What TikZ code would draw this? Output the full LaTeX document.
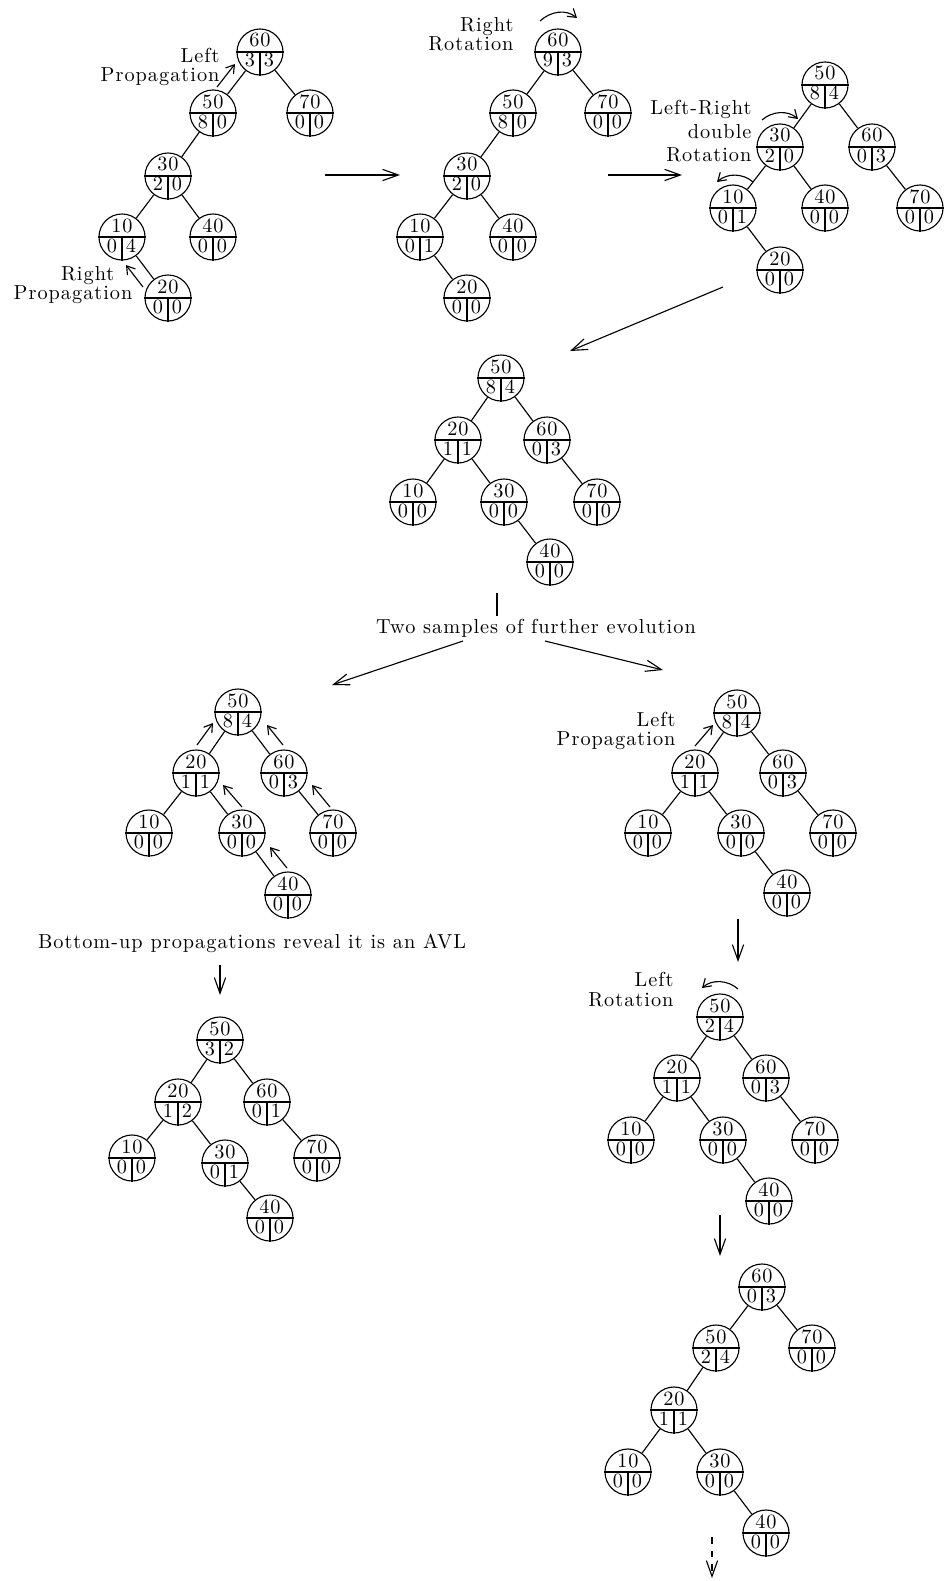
\documentclass[tikz,border=0pt]{standalone}
\usepackage{fontspec}
\setmainfont{lmroman10-regular.otf}[LetterSpace=5]
\usepackage{tikz}
\usetikzlibrary{arrows.meta}

% one tree node: name, x, y, key, left count, right count
\newcommand{\avl}[6]{%
  \node[avl] (#1) at (#2,#3) {};
  \draw (#1.west) -- (#1.east) (#1.center) -- (#1.south);
  \node[key] (#1k) at (#2,#3-5) {#4};
  \node[key] (#1l) at (#2-10,#3+15) {#5};
  \node[key] (#1r) at (#2+9,#3+15) {#6};
}

\begin{document}
\begin{tikzpicture}[x=0.0156cm, y=-0.0156cm, line width=0.5pt,
    font=\fontsize{9}{8.5}\selectfont,
    avl/.style={circle, draw, minimum size=0.7176cm, inner sep=0pt},
    key/.style={anchor=base, inner sep=0pt},
    lbl/.style={align=right, anchor=south east, inner sep=0pt},
    flow/.style={-{Straight Barb[length=7pt,width=5pt]}},
    prop/.style={-{Straight Barb[length=3.5pt,width=4.5pt]}}
]
\useasboundingbox (0,0) rectangle (945,1581);

% tree a - insertion of 20, propagations upward
\avl{a60}{260}{52}{60}{3}{3}
\avl{a50}{213}{113}{50}{8}{0}
\avl{a70}{310}{113}{70}{0}{0}
\avl{a30}{168}{176}{30}{2}{0}
\avl{a10}{122}{237}{10}{0}{4}
\avl{a40}{213}{237}{40}{0}{0}
\avl{a20}{168}{298}{20}{0}{0}
\draw (a60) -- (a50) (a60) -- (a70) (a50) -- (a30) (a30) -- (a10) (a30) -- (a40) (a10) -- (a20);
\node[lbl] (alp) at (220,86) {Left\\Propagation};
\draw[prop] (217,87) -- (235,64);
\node[lbl] (arp) at (133,304) {Right\hspace*{8pt}\\Propagation};
\draw[prop] (143,287) -- (126,265);

\draw[flow] (325,175) -- (400,175);

% tree b - right rotation at 60
\avl{b60}{558}{52}{60}{9}{3}
\avl{b50}{513}{113}{50}{8}{0}
\avl{b70}{608}{113}{70}{0}{0}
\avl{b30}{467}{176}{30}{2}{0}
\avl{b10}{420}{237}{10}{0}{1}
\avl{b40}{513}{237}{40}{0}{0}
\avl{b20}{467}{298}{20}{0}{0}
\draw (b60) -- (b50) (b60) -- (b70) (b50) -- (b30) (b30) -- (b10) (b30) -- (b40) (b10) -- (b20);
\node[lbl] (brr) at (514,52) {Right\\Rotation};
\draw[prop] (540,21) .. controls (551,11) and (566,9) .. (577,18);

\draw[flow] (608,175) -- (682,175);

% tree c - left-right double rotation at 30
\avl{c50}{825}{85}{50}{8}{4}
\avl{c30}{780}{147}{30}{2}{0}
\avl{c60}{872}{147}{60}{0}{3}
\avl{c10}{733}{208}{10}{0}{1}
\avl{c40}{825}{208}{40}{0}{0}
\avl{c70}{920}{208}{70}{0}{0}
\avl{c20}{780}{270}{20}{0}{0}
\draw (c50) -- (c30) (c50) -- (c60) (c30) -- (c10) (c30) -- (c40) (c60) -- (c70) (c10) -- (c20);
\node[lbl, font=\fontsize{9}{10.5}\selectfont] (clr) at (752,163) {Left-Right\\double\\Rotation};
\draw[prop] (762,120) .. controls (772,111) and (788,110) .. (798,119);
\draw[prop] (753,182) .. controls (743,173) and (727,173) .. (717,182);

\draw[flow] (723,287) -- (570,351);

% tree d - result
\avl{d50}{501}{378}{50}{8}{4}
\avl{d20}{458}{440}{20}{1}{1}
\avl{d60}{547}{440}{60}{0}{3}
\avl{d10}{413}{502}{10}{0}{0}
\avl{d30}{504}{502}{30}{0}{0}
\avl{d70}{597}{502}{70}{0}{0}
\avl{d40}{550}{562}{40}{0}{0}
\draw (d50) -- (d20) (d50) -- (d60) (d20) -- (d10) (d20) -- (d30) (d60) -- (d70) (d30) -- (d40);

\draw (497,593) -- (497,616);
\node[key] (two) at (536,633) {Two samples of further evolution};
\draw[flow] (463,641) -- (332,685);
\draw[flow] (545,641) -- (663,670);

% tree e - bottom-up propagations
\avl{e50}{238}{712}{50}{8}{4}
\avl{e20}{196}{773}{20}{1}{1}
\avl{e60}{284}{773}{60}{0}{3}
\avl{e10}{149}{833}{10}{0}{0}
\avl{e30}{242}{833}{30}{0}{0}
\avl{e70}{333}{833}{70}{0}{0}
\avl{e40}{288}{895}{40}{0}{0}
\draw (e50) -- (e20) (e50) -- (e60) (e20) -- (e10) (e20) -- (e30) (e60) -- (e70) (e30) -- (e40);
\draw[prop] (197,745) -- (213,723);
\draw[prop] (283,745) -- (267,725);
\draw[prop] (242,807) -- (223,785);
\draw[prop] (330,807) -- (312,785);
\draw[prop] (287,868) -- (270,847);
\node[key] (bup) at (252,948) {Bottom-up propagations reveal it is an AVL};
\draw[flow] (220,965) -- (220,995);

% tree f - it is an AVL
\avl{f50}{220}{1040}{50}{3}{2}
\avl{f20}{178}{1102}{20}{1}{2}
\avl{f60}{267}{1102}{60}{0}{1}
\avl{f10}{132}{1158}{10}{0}{0}
\avl{f30}{225}{1163}{30}{0}{1}
\avl{f70}{317}{1158}{70}{0}{0}
\avl{f40}{270}{1218}{40}{0}{0}
\draw (f50) -- (f20) (f50) -- (f60) (f20) -- (f10) (f20) -- (f30) (f60) -- (f70) (f30) -- (f40);

% tree g - left propagation
\avl{g50}{737}{713}{50}{8}{4}
\avl{g20}{695}{773}{20}{1}{1}
\avl{g60}{783}{773}{60}{0}{3}
\avl{g10}{648}{833}{10}{0}{0}
\avl{g30}{741}{833}{30}{0}{0}
\avl{g70}{833}{833}{70}{0}{0}
\avl{g40}{787}{893}{40}{0}{0}
\draw (g50) -- (g20) (g50) -- (g60) (g20) -- (g10) (g20) -- (g30) (g60) -- (g70) (g30) -- (g40);
\node[lbl] (glp) at (676,750) {Left\\Propagation};
\draw[prop] (695,746) -- (713,725);
\draw[flow] (738,919) -- (738,962);

% tree h - left rotation at 50
\avl{h50}{720}{1017}{50}{2}{4}
\avl{h20}{677}{1078}{20}{1}{1}
\avl{h60}{766}{1078}{60}{0}{3}
\avl{h10}{631}{1140}{10}{0}{0}
\avl{h30}{723}{1140}{30}{0}{0}
\avl{h70}{815}{1140}{70}{0}{0}
\avl{h40}{769}{1201}{40}{0}{0}
\draw (h50) -- (h20) (h50) -- (h60) (h20) -- (h10) (h20) -- (h30) (h60) -- (h70) (h30) -- (h40);
\node[lbl] (hlr) at (674,1007) {Left\\Rotation};
\draw[prop] (738,989) .. controls (728,980) and (712,979) .. (702,988);
\draw[flow] (720,1215) -- (720,1256);

% tree i - after rotation
\avl{i60}{762}{1287}{60}{0}{3}
\avl{i50}{716}{1348}{50}{2}{4}
\avl{i70}{812}{1348}{70}{0}{0}
\avl{i20}{674}{1410}{20}{1}{1}
\avl{i10}{628}{1472}{10}{0}{0}
\avl{i30}{720}{1472}{30}{0}{0}
\avl{i40}{766}{1533}{40}{0}{0}
\draw (i60) -- (i50) (i60) -- (i70) (i50) -- (i20) (i20) -- (i10) (i20) -- (i30) (i30) -- (i40);
\draw[flow, dashed] (712,1537) -- (712,1578);

\end{tikzpicture}
\end{document}
